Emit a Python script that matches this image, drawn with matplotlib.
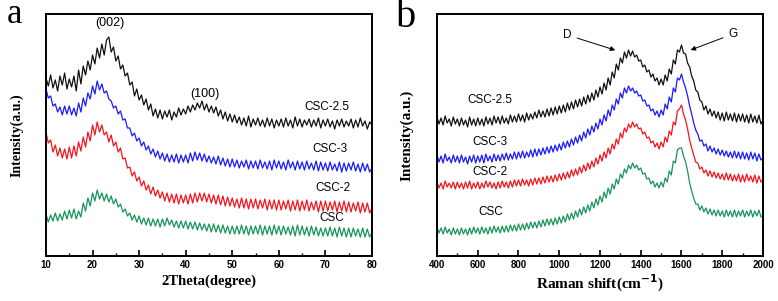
import numpy as np
import matplotlib
matplotlib.use("Agg")
import matplotlib.pyplot as plt
from matplotlib.ticker import MultipleLocator

# ---- XRD data (panel a), 2theta 10..80 every 0.5 degree ----
two_theta = np.arange(10, 80.25, 0.5)

xrd_csc25 = [178,170,181,168,176,165,180,171,183,167,
             177,169,180,165,186,172,190,181,195,186,
             201,192,208,198,212,201,216,219,204,209,
             195,200,187,191,180,183,171,174,160,167,
             156,161,151,157,146,152,140,147,138,146,
             137,145,139,146,136,144,139,148,141,147,
             142,150,144,151,146,153,148,155,146,152,
             144,150,143,149,140,146,137,144,135,142,
             134,141,133,139,131,138,130,140,129,137,
             131,138,130,136,129,138,130,137,128,136,
             130,137,129,138,130,136,128,139,130,137,
             129,136,131,137,129,136,130,138,128,136,
             130,137,129,135,127,136,130,137,129,135,
             130,137,128,136,129,138,130,135,127,134,
             131]
xrd_csc3 = [167,158,160,150,152,144,149,141,150,142,
            150,141,148,140,153,144,158,150,163,157,
            170,162,175,166,172,163,165,157,155,148,
            150,142,145,136,137,128,128,120,123,115,
            118,110,114,106,110,102,107,99,105,97,
            103,95,102,94,101,94,102,93,101,94,
            101,93,103,95,104,96,103,95,102,94,
            100,93,99,92,100,91,98,90,97,89,
            97,89,96,88,95,89,96,87,95,88,
            95,87,96,88,94,87,95,86,96,88,
            95,87,94,86,96,88,94,86,95,87,
            94,86,95,87,93,86,95,85,94,86,
            93,85,94,86,92,85,94,84,93,85,
            93,86,94,85,92,84,93,85,92,84,
            88]
xrd_csc2 = [124,113,116,104,111,100,108,98,107,97,
            109,98,110,100,114,105,119,109,124,115,
            131,121,134,124,131,121,124,114,121,110,
            114,104,108,97,98,88,89,80,84,75,
            79,70,75,66,71,62,69,60,66,58,
            64,55,63,54,62,53,62,52,61,53,
            61,52,62,53,63,54,63,55,63,54,
            62,53,61,52,61,51,60,50,59,50,
            58,49,57,48,58,48,57,47,57,48,
            57,47,56,48,57,46,56,47,56,46,
            56,46,55,47,56,45,55,46,56,45,
            55,46,56,45,54,46,55,44,55,45,
            55,45,54,46,55,44,54,45,55,44,
            54,44,53,45,54,43,53,44,53,43,
            48]
xrd_csc = [42,34,41,35,43,35,42,36,45,37,
           46,38,47,37,45,39,53,45,58,50,
           63,55,66,57,63,55,62,54,60,52,
           57,49,52,44,47,40,43,36,41,34,
           40,32,38,31,38,30,37,30,37,29,
           37,30,38,31,36,29,35,28,35,28,
           35,27,34,27,34,26,33,26,32,25,
           32,24,32,24,31,23,31,23,30,22,
           30,22,30,22,31,22,30,21,30,22,
           30,22,31,21,30,22,30,21,31,22,
           30,21,30,22,29,21,30,20,31,21,
           30,21,29,20,30,21,29,20,28,20,
           28,20,29,20,28,19,29,20,28,19,
           28,19,28,20,27,19,28,19,27,19,
           23]

# ---- Raman data (panel b), 400..2000 cm-1 every 10 ----
raman_shift = np.arange(400, 2001, 10)

ram_csc25 = [139,132,138,131,140,133,137,130,139,132,
             137,130,138,131,136,129,139,131,137,130,
             138,131,137,130,139,132,138,131,140,133,
             139,132,140,133,138,132,141,134,140,134,
             142,135,141,134,143,136,142,137,144,138,
             146,139,145,139,147,140,148,141,149,142,
             150,143,151,144,153,146,154,147,156,149,
             157,150,159,152,161,154,163,156,166,159,
             169,162,173,166,178,171,184,178,192,186,
             198,193,204,198,206,200,205,199,201,195,
             196,189,191,184,186,179,182,175,178,171,
             177,171,181,175,187,182,196,192,206,204,
             211,203,202,193,189,180,175,166,164,156,
             154,146,150,142,147,140,145,138,144,136,
             143,135,144,136,142,135,143,134,142,135,
             142,134,141,133,142,134,140,133,141,132,
             136]
ram_csc3 = [101,94,100,93,102,95,99,93,101,94,
            100,93,101,94,99,92,100,94,101,93,
            100,94,101,93,102,95,100,94,102,95,
            101,95,102,96,103,96,102,97,104,97,
            104,98,105,98,104,99,106,99,107,100,
            107,101,108,102,109,103,110,104,111,105,
            112,106,114,108,115,109,117,111,119,113,
            121,115,124,118,127,121,130,124,133,127,
            137,131,141,135,146,140,151,146,157,152,
            163,158,168,163,170,165,168,163,165,160,
            161,155,156,150,151,145,147,141,145,139,
            146,141,152,147,159,154,168,164,178,176,
            182,174,168,160,150,142,133,126,122,115,
            116,110,112,105,110,104,108,102,107,101,
            106,100,105,99,104,98,105,98,104,97,
            104,97,103,96,104,97,103,95,102,96,
            98]
ram_csc2 = [74,68,73,67,75,69,73,68,74,67,
            74,68,73,67,74,68,75,67,73,68,
            74,67,73,68,75,69,74,68,73,67,
            74,68,75,69,74,68,75,69,76,70,
            76,70,77,71,76,70,77,71,78,72,
            78,72,79,73,80,74,80,74,81,75,
            82,76,83,77,84,78,86,80,87,81,
            89,83,91,85,93,87,95,89,98,92,
            101,95,104,98,108,102,112,107,117,112,
            123,118,128,124,132,128,134,129,132,127,
            128,122,124,118,119,113,115,109,113,107,
            114,109,119,114,125,121,134,131,145,147,
            151,142,136,127,116,108,101,94,93,87,
            89,83,86,80,85,79,84,78,83,77,
            82,76,83,76,82,75,81,75,82,74,
            81,74,82,75,80,74,81,73,80,74,
            76]
ram_csc = [29,23,28,22,29,23,27,21,28,22,
           27,21,28,22,27,21,28,22,29,23,
           28,22,29,23,28,22,29,23,30,24,
           29,23,30,24,30,24,31,25,31,25,
           32,26,32,26,33,27,34,28,34,28,
           35,29,36,30,37,31,37,31,38,32,
           39,33,40,34,42,36,43,37,45,39,
           47,41,49,43,51,45,54,48,57,51,
           60,54,64,58,68,62,72,67,77,72,
           82,78,87,83,91,87,93,88,91,86,
           88,82,83,77,78,72,75,69,73,68,
           74,69,78,74,85,81,95,93,106,108,
           108,100,94,85,73,65,58,52,52,46,
           50,44,48,42,47,41,46,40,46,40,
           45,39,46,40,45,39,46,39,45,40,
           46,39,45,40,46,39,45,40,46,39,
           41]

names = ["CSC-2.5", "CSC-3", "CSC-2", "CSC"]
colors = ["#111111", "#1a1aff", "#f5141e", "#17955a"]

xrd_series = [xrd_csc25, xrd_csc3, xrd_csc2, xrd_csc]
ram_series = [ram_csc25, ram_csc3, ram_csc2, ram_csc]

# label positions (data coords)
xrd_label_pos = [(70.3, 149), (71.0, 107), (71.6, 68), (71.4, 38)]
ram_label_pos = [(660, 156), (660, 114), (660, 84), (665, 44)]

sans = "Liberation Sans"
serif = "Liberation Serif"

fig = plt.figure(figsize=(7.78, 3.01), dpi=100)
ax1 = fig.add_axes([0.0591, 0.1495, 0.419, 0.804])
ax2 = fig.add_axes([0.5617, 0.1495, 0.419, 0.804])


def style_axis(ax):
    for sp in ax.spines.values():
        sp.set_linewidth(1.4)
    ax.set_yticks([])
    ax.tick_params(axis="x", which="major", direction="in", length=4, width=1.2,
                   pad=3, labelsize=7)
    ax.tick_params(axis="x", which="minor", direction="in", length=2.5, width=1.0)
    for lab in ax.get_xticklabels():
        lab.set_fontfamily(sans)
        lab.set_fontweight("bold")
    ax.set_ylim(0, 242)


# panel a
for y, c in zip(xrd_series, colors):
    ax1.plot(two_theta, y, color=c, lw=0.9)
ax1.set_xlim(10, 80)
ax1.xaxis.set_major_locator(MultipleLocator(10))
ax1.xaxis.set_minor_locator(MultipleLocator(5))
style_axis(ax1)
ax1.set_xlabel("2Theta(degree)", family=serif, weight="bold", fontsize=10.5, labelpad=3)
ax1.set_ylabel("Intensity(a.u.)", family=serif, weight="bold", fontsize=10, labelpad=16)
for name, (x, y) in zip(names, xrd_label_pos):
    ax1.text(x, y, name, family=sans, fontsize=8.5, ha="center", va="center")
ax1.text(23.7, 233, "(002)", family=sans, fontsize=9, ha="center", va="center")
ax1.text(44.1, 162, "(100)", family=sans, fontsize=9, ha="center", va="center")
fig.text(0.018, 0.922, "a", family=serif, fontsize=25, ha="center", va="baseline")

# panel b
for y, c in zip(ram_series, colors):
    ax2.plot(raman_shift, y, color=c, lw=0.9)
ax2.set_xlim(400, 2000)
ax2.xaxis.set_major_locator(MultipleLocator(200))
ax2.xaxis.set_minor_locator(MultipleLocator(100))
style_axis(ax2)
ax2.set_xlabel("Raman shift(cm$^{\\mathbf{-1}}$)", family=serif, weight="bold",
               fontsize=11, labelpad=2)
ax2.set_ylabel("Intensity(a.u.)", family=serif, weight="bold", fontsize=11, labelpad=17)
for name, (x, y) in zip(names, ram_label_pos):
    ax2.text(x, y, name, family=sans, fontsize=8.5, ha="center", va="center")
arrow = dict(arrowstyle="-|>", color="black", lw=0.7, mutation_scale=7)
ax2.annotate("D", xy=(1288, 205), xytext=(1040, 221), family=sans, fontsize=8.5,
             ha="center", va="center", arrowprops=arrow)
ax2.annotate("G", xy=(1632, 205), xytext=(1853, 222), family=sans, fontsize=8.5,
             ha="center", va="center", arrowprops=arrow)
fig.text(0.522, 0.91, "b", family=serif, fontsize=29, ha="center", va="baseline")

fig.savefig("out.png", dpi=100)
